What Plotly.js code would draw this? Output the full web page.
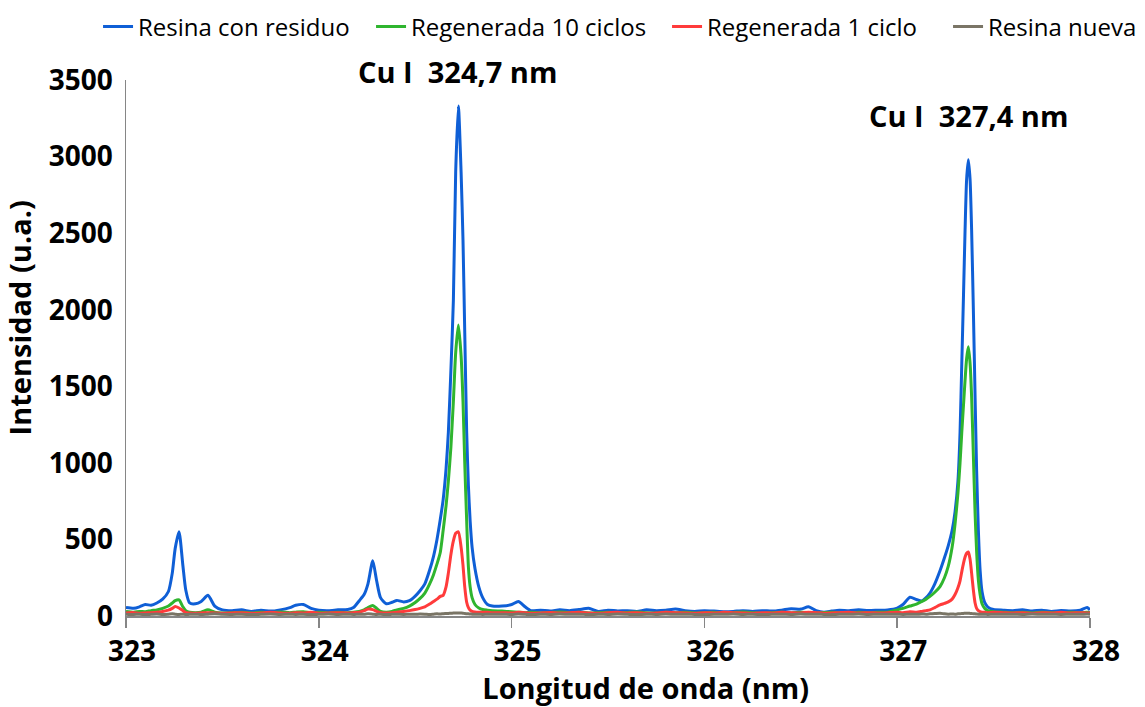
<!DOCTYPE html>
<html>
<head>
<meta charset="utf-8">
<script src="https://cdn.plot.ly/plotly-3.0.1.min.js"></script>
<style>html,body{margin:0;padding:0;background:#fff;}#chart{width:1145px;height:707px;}</style>
</head>
<body>
<div id="chart"></div>
<script>
// Wavelength grid (nm)
const wavelength = [
  323.00, 323.04, 323.07, 323.10, 323.13, 323.16, 323.19, 323.22, 323.24, 323.255, 323.275, 323.295, 323.31, 323.33, 323.36, 323.39, 323.425, 323.46, 323.50, 323.55,
  323.60, 323.65, 323.70, 323.75, 323.80, 323.85, 323.88, 323.92, 323.96, 324.00, 324.05, 324.10, 324.15,
  324.18, 324.21, 324.235, 324.255, 324.28, 324.30, 324.32, 324.35, 324.38, 324.405,
  324.44, 324.47, 324.50, 324.525, 324.55, 324.575, 324.595, 324.613, 324.63, 324.645, 324.66, 324.672, 324.685, 324.698, 324.71, 324.724, 324.738, 324.748, 324.757, 324.767, 324.776, 324.785, 324.795, 324.81, 324.83, 324.85, 324.875, 324.90,
  324.95, 325.00, 325.035, 325.07, 325.10, 325.15, 325.20, 325.25, 325.30, 325.35, 325.40, 325.45, 325.50, 325.55, 325.60, 325.65, 325.70, 325.75, 325.80, 325.85, 325.90, 325.95, 326.00, 326.05, 326.10, 326.15, 326.20, 326.25, 326.30, 326.35, 326.40, 326.45, 326.50, 326.54, 326.58, 326.62, 326.66, 326.70, 326.75, 326.80, 326.85, 326.90,
  326.95, 327.00, 327.03, 327.066, 327.10, 327.127, 327.15, 327.17, 327.195, 327.222, 327.245, 327.265, 327.285, 327.30, 327.315, 327.326, 327.335, 327.344, 327.352, 327.36, 327.369, 327.378, 327.386, 327.395, 327.404, 327.412, 327.421, 327.43, 327.44, 327.455, 327.47, 327.50, 327.55,
  327.60, 327.65, 327.70, 327.75, 327.80, 327.85, 327.90, 327.95, 327.985, 328.00
];

const resinaConResiduo = [
  55, 50, 60, 75, 70, 85, 110, 160, 280, 440, 550, 330, 170, 85, 80, 95, 135, 65, 40, 35,
  40, 30, 38, 32, 40, 55, 70, 75, 50, 38, 35, 40, 42,
  55, 100, 140, 210, 360, 230, 120, 80, 90, 102,
  92, 100, 130, 165, 210, 300, 390, 500, 630, 760, 960, 1200, 1600, 2060, 2900, 3330, 2900, 2450, 1850, 1200, 850, 620, 450, 310, 190, 120, 75, 65,
  65, 75, 95, 60, 35, 38, 32, 40, 35, 42, 50, 30, 38, 33, 35, 30, 40, 35, 38, 45, 35, 30, 35, 32, 28, 30, 35, 30, 35, 32, 38, 48, 45, 60, 35, 25, 32, 38, 35, 40, 36, 38,
  40, 52, 75, 122, 108, 98, 120, 150, 210, 295, 380, 460, 560, 680, 880, 1200, 1650, 2100, 2520, 2850, 2980, 2850, 2520, 2000, 1430, 950, 560, 300, 160, 85, 58, 42, 38,
  35, 40, 33, 38, 30, 36, 32, 38, 55, 40
];

const regenerada10 = [
  30, 25, 30, 28, 35, 40, 50, 65, 85, 100, 105, 60, 35, 25, 22, 25, 40, 25, 20, 22,
  25, 20, 24, 22, 26, 22, 25, 28, 22, 24, 20, 25, 22,
  25, 30, 40, 55, 68, 50, 30, 25, 30, 40,
  50, 65, 88, 115, 150, 210, 270, 340, 415, 560, 720, 880, 1100, 1400, 1720, 1900, 1700, 1400, 1000, 620, 320, 190, 120, 75, 52, 42, 38, 35,
  32, 28, 25, 22, 24, 20, 23, 26, 22, 25, 20, 22, 25, 20, 23, 26, 22, 20, 24, 22, 25, 20, 22, 24, 20, 23, 26, 22, 18, 22, 25, 20, 24, 22, 20, 23, 25, 22, 20, 24, 22, 25,
  25, 40, 50, 65, 78, 95, 110, 128, 155, 192, 250, 325, 450, 600, 800, 1000, 1200, 1380, 1540, 1680, 1758, 1650, 1430, 1050, 670, 420, 235, 140, 80, 48, 35, 28, 25,
  22, 25, 20, 24, 22, 20, 25, 22, 24, 22
];

const regenerada1 = [
  20, 22, 18, 20, 22, 25, 30, 38, 50, 62, 52, 35, 22, 20, 18, 20, 22, 20, 18, 20,
  22, 18, 20, 24, 20, 18, 22, 20, 24, 18, 20, 22, 20,
  22, 25, 35, 45, 42, 30, 22, 20, 22, 25,
  30, 35, 42, 50, 60, 78, 95, 110, 128, 135, 190, 280, 400, 490, 540, 550, 450, 330, 190, 90, 55, 38, 30, 27, 25, 24, 25, 22,
  22, 20, 24, 22, 18, 20, 23, 20, 22, 25, 20, 18, 22, 24, 20, 22, 18, 20, 24, 22, 20, 18, 22, 20, 24, 22, 20, 18, 22, 20, 24, 22, 20, 25, 22, 18, 20, 22, 24, 20, 22, 20,
  22, 25, 22, 28, 25, 30, 35, 40, 55, 72, 82, 92, 110, 140, 185, 230, 290, 345, 385, 410, 418, 370, 280, 170, 85, 50, 35, 28, 25, 24, 22, 24, 22,
  20, 22, 18, 22, 20, 24, 20, 22, 20, 22
];

const resinaNueva = [
  12, 10, 12, 9, 11, 13, 10, 12, 14, 12, 10, 12, 9, 11, 12, 10, 12, 14, 11, 10,
  12, 9, 11, 13, 10, 12, 10, 12, 9, 11, 13, 10, 12,
  10, 12, 11, 14, 12, 10, 12, 9, 11, 12,
  10, 12, 11, 13, 12, 10, 12, 14, 13, 15, 16, 17, 18, 19, 20, 20, 19, 18, 16, 15, 14, 13, 12, 11, 12, 10, 12, 11,
  12, 10, 13, 11, 9, 12, 10, 13, 11, 12, 9, 12, 10, 13, 11, 9, 12, 10, 13, 11, 12, 10, 9, 12, 11, 13, 10, 12, 9, 11, 12, 10, 13, 11, 12, 10, 9, 12, 11, 13, 10, 12,
  11, 12, 10, 12, 11, 13, 12, 14, 16, 18, 14, 12, 13, 12, 14, 15, 16, 17, 18, 18, 18, 17, 16, 15, 14, 13, 12, 12, 11, 12, 10, 12, 11,
  12, 10, 13, 11, 12, 10, 12, 11, 13, 12
];

const seriesNames = ['Resina con residuo', 'Regenerada 10 ciclos', 'Regenerada 1 ciclo', 'Resina nueva'];
const seriesColors = ['#0f5fd6', '#2fb52f', '#ff3b3b', '#7a7566'];
const seriesValues = [resinaConResiduo, regenerada10, regenerada1, resinaNueva];
const legendWidths = [228, 251, 236, 150];

const xTickValues = [323, 324, 325, 326, 327, 328];
const peakLabels = ['Cu I\u00a0 324,7 nm', 'Cu I\u00a0 327,4 nm'];
const peakLabelX = [324.72, 327.37];

const traces = seriesValues.map((vals, i) => ({
  type: 'scatter',
  mode: 'lines',
  name: seriesNames[i],
  x: wavelength,
  y: vals,
  legendwidth: legendWidths[i],
  line: {color: seriesColors[i], width: 3, shape: 'spline', smoothing: 0.6},
  cliponaxis: true
}));

const fontFam = '"Open Sans", "Noto Sans", sans-serif';

const layout = {
  width: 1145,
  height: 707,
  paper_bgcolor: '#ffffff',
  plot_bgcolor: '#ffffff',
  margin: {l: 126, r: 55, t: 80, b: 91, autoexpand: false},
  showlegend: true,
  legend: {
    orientation: 'h',
    x: -0.029, xanchor: 'left',
    y: 1.099, yanchor: 'middle',
    font: {family: fontFam, size: 24, color: '#000'},
    traceorder: 'normal',
    itemwidth: 30,
    bgcolor: 'rgba(0,0,0,0)'
  },
  xaxis: {
    range: [323, 328],
    tickvals: xTickValues,
    ticktext: xTickValues.map(String),
    ticks: 'outside',
    ticklen: 10,
    tickwidth: 1.5,
    tickcolor: '#868686',
    ticklabelshift: 6,
    showline: true,
    linecolor: '#868686',
    linewidth: 1.5,
    showgrid: false,
    zeroline: false,
    automargin: false,
    tickfont: {family: fontFam, size: 28, color: '#000', weight: 'bold'},
    title: {
      text: '&nbsp;&nbsp;&nbsp;&nbsp;&nbsp;&nbsp;&nbsp;&nbsp;&nbsp;&nbsp;Longitud de onda (nm)',
      font: {family: fontFam, size: 29, color: '#000', weight: 'bold'},
      standoff: 2
    }
  },
  yaxis: {
    range: [0, 3500],
    dtick: 500,
    tick0: 0,
    ticks: '',
    showline: true,
    linecolor: '#868686',
    linewidth: 1.5,
    showgrid: false,
    zeroline: false,
    automargin: false,
    ticklabelstandoff: 6,
    tickfont: {family: fontFam, size: 28, color: '#000', weight: 'bold'},
    title: {
      text: '&nbsp;&nbsp;&nbsp;&nbsp;&nbsp;&nbsp;&nbsp;&nbsp;Intensidad (u.a.)',
      font: {family: fontFam, size: 29, color: '#000', weight: 'bold'},
      standoff: 8
    }
  },
  annotations: peakLabels.map((t, i) => ({
    text: t,
    x: peakLabelX[i], xref: 'x',
    y: [1.015, 0.933][i], yref: 'paper',
    xanchor: 'center', yanchor: 'middle',
    showarrow: false,
    font: {family: fontFam, size: 29, color: '#000', weight: 'bold'}
  }))
};

Plotly.newPlot('chart', traces, layout, {displayModeBar: false, staticPlot: true});
</script>
</body>
</html>
